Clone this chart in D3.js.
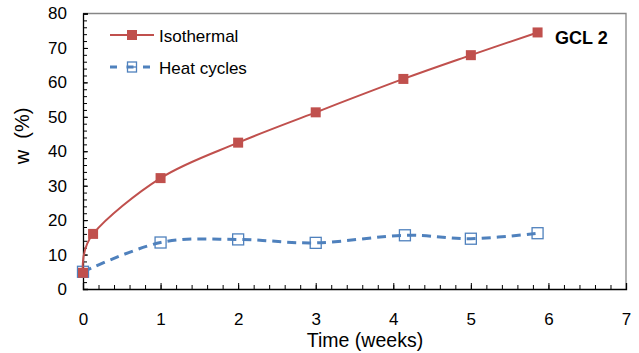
<!DOCTYPE html>
<html>
<head>
<meta charset="utf-8">
<script src="https://cdn.jsdelivr.net/npm/d3@7"></script>
<style>
  body { margin: 0; background: #fff; }
  text { font-family: "Liberation Sans", Arial, sans-serif; }
</style>
</head>
<body>
<svg id="svg" width="639" height="353"></svg>
<script>
// values
let isoWeeks = [0, 0.13, 1, 2, 3, 4.13, 5, 5.86];
let isoW = [4.7, 16.0, 32.2, 42.5, 51.3, 61.0, 67.9, 74.5];
let heatWeeks = [0, 1, 2, 3, 4.15, 5, 5.86];
let heatW = [5.0, 13.5, 14.4, 13.4, 15.6, 14.6, 16.2];
let xTicks = [0, 1, 2, 3, 4, 5, 6, 7];
let yTicks = [0, 10, 20, 30, 40, 50, 60, 70, 80];

let plotLeft = 83, plotRight = 626, plotTop = 13.5, plotBottom = 289;

let x = d3.scaleLinear().domain([0, 7]).range([plotLeft, plotRight]);
let y = d3.scaleLinear().domain([0, 80]).range([plotBottom, plotTop]);

let svg = d3.select("#svg");

// minor ticks
svg.append("g")
    .attr("transform", `translate(0,${plotBottom})`)
    .call(d3.axisBottom(x).tickValues(d3.range(0, 7.01, 0.2)).tickSize(-4).tickFormat(""))
    .call(g => g.select(".domain").remove());
svg.append("g")
    .attr("transform", `translate(${plotLeft},0)`)
    .call(d3.axisLeft(y).tickValues(d3.range(0, 80.01, 2)).tickSize(-4).tickFormat(""))
    .call(g => g.select(".domain").remove());

// frame top/right
svg.append("path")
    .attr("d", `M${plotLeft},${plotTop}H${plotRight}V${plotBottom}`)
    .attr("fill", "none")
    .attr("stroke", "#868686")
    .attr("stroke-width", 1.3);

// major axes
svg.append("g")
    .attr("transform", `translate(0,${plotBottom})`)
    .call(d3.axisBottom(x).tickValues(xTicks).tickFormat(d3.format("d")).tickSize(-6).tickPadding(24))
    .call(g => g.selectAll("text").attr("font-size", 17).attr("fill", "#000"))
    .call(g => g.select(".domain").attr("stroke-width", 1.3));
svg.append("g")
    .attr("transform", `translate(${plotLeft},0)`)
    .call(d3.axisLeft(y).tickValues(yTicks).tickFormat(d3.format("d")).tickSize(-5).tickPadding(16))
    .call(g => g.selectAll("text").attr("font-size", 17).attr("fill", "#000"))
    .call(g => g.select(".domain").attr("stroke-width", 1.3));

// axis titles
svg.append("text")
    .attr("x", 365).attr("y", 347)
    .attr("text-anchor", "middle")
    .attr("font-size", 19.5)
    .text("Time (weeks)");
svg.append("text")
    .attr("transform", "translate(29,136) rotate(-90)")
    .attr("text-anchor", "middle")
    .attr("font-size", 20)
    .attr("xml:space", "preserve")
    .text("w  (%)");

let line = d3.line().curve(d3.curveCardinal.tension(0));

let isoPts = isoWeeks.map((d, i) => [x(d), y(isoW[i])]);
let heatPts = heatWeeks.map((d, i) => [x(d), y(heatW[i])]);

svg.append("path")
    .attr("d", line(heatPts))
    .attr("fill", "none")
    .attr("stroke", "#4F81BD")
    .attr("stroke-width", 3)
    .attr("stroke-dasharray", "9,6");

svg.selectAll(".heat")
    .data(heatPts)
    .enter()
    .append("rect")
    .attr("x", d => d[0] - 5.5)
    .attr("y", d => d[1] - 5.5)
    .attr("width", 11)
    .attr("height", 11)
    .attr("fill", "none")
    .attr("stroke", "#4F81BD")
    .attr("stroke-width", 1.3);

svg.append("path")
    .attr("d", line(isoPts))
    .attr("fill", "none")
    .attr("stroke", "#C0504D")
    .attr("stroke-width", 2);

svg.selectAll(".iso")
    .data(isoPts)
    .enter()
    .append("rect")
    .attr("x", d => d[0] - 5)
    .attr("y", d => d[1] - 5)
    .attr("width", 10)
    .attr("height", 10)
    .attr("fill", "#C0504D");

// legend
svg.append("line")
    .attr("x1", 110).attr("x2", 154).attr("y1", 35).attr("y2", 35)
    .attr("stroke", "#C0504D").attr("stroke-width", 2);
svg.append("rect")
    .attr("x", 127).attr("y", 30).attr("width", 10).attr("height", 10)
    .attr("fill", "#C0504D");
svg.append("text")
    .attr("x", 159).attr("y", 42)
    .attr("font-size", 17)
    .text("Isothermal");

svg.append("line")
    .attr("x1", 110).attr("x2", 154).attr("y1", 67).attr("y2", 67)
    .attr("stroke", "#4F81BD").attr("stroke-width", 3)
    .attr("stroke-dasharray", "7,9.5");
svg.append("rect")
    .attr("x", 127.5).attr("y", 62).attr("width", 9).attr("height", 10)
    .attr("fill", "none")
    .attr("stroke", "#4F81BD").attr("stroke-width", 1.3);
svg.append("line")
    .attr("x1", 127.5).attr("x2", 136.5).attr("y1", 67).attr("y2", 67)
    .attr("stroke", "#4F81BD").attr("stroke-width", 1.3);
svg.append("text")
    .attr("x", 159).attr("y", 74)
    .attr("font-size", 17)
    .text("Heat cycles");

svg.append("text")
    .attr("x", 555).attr("y", 43.5)
    .attr("font-size", 18)
    .attr("font-weight", "bold")
    .text("GCL 2");
</script>
</body>
</html>
